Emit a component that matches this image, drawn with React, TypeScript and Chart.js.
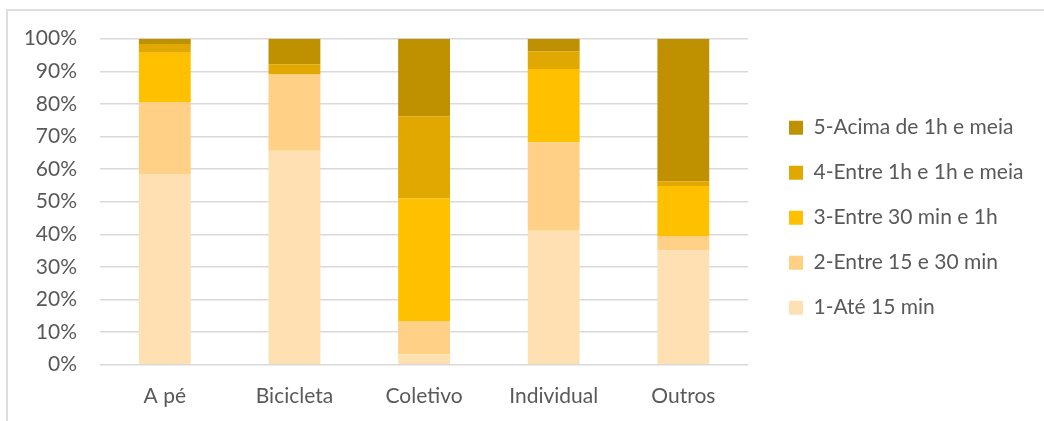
import { useEffect, useRef } from "react";
import { Chart, registerables } from "chart.js";

Chart.register(...registerables);

// Modos de transporte
const categorias = ["A pé", "Bicicleta", "Coletivo", "Individual", "Outros"];

// Participação (%) de cada faixa de tempo de deslocamento
const ate15min = [58.5, 65.6, 3.1, 41.1, 35.1];
const entre15e30 = [22.1, 23.4, 10.3, 27.1, 4.4];
const entre30e1h = [15.1, 0, 37.6, 22.5, 15.3];
const entre1hE1hMeia = [2.7, 3.2, 25.2, 5.4, 1.5];
const acima1hMeia = [1.6, 7.8, 23.8, 3.9, 43.7];

const faixas = [
  "1-Até 15 min",
  "2-Entre 15 e 30 min",
  "3-Entre 30 min e 1h",
  "4-Entre 1h e 1h e meia",
  "5-Acima de 1h e meia",
];
const series = [ate15min, entre15e30, entre30e1h, entre1hE1hMeia, acima1hMeia];
const cores = ["#FFE0B2", "#FFD085", "#FFC000", "#E0A800", "#BF9000"];

// Layout (canvas pixels)
const W = 1036;
const H = 410;
const AREA_LEFT = 92;
const AREA_RIGHT = 740;
const AREA_TOP = 27.7;
const AREA_BOTTOM = 353.7;
const X_AXIS_H = 56;
const FONT_SIZE = 21;
const FONT_FAMILY = "Lato, 'Open Sans', sans-serif";
const TEXT_COLOR = "#595959";
const GRID_COLOR = "#D9D9D9";
const LEG_PAD = 24;
const LEG_BOX = 14;
const LEG_BOX_X = 781;
const LEG_FIRST_TOP = 106.2;

export default function App() {
  const ref = useRef<HTMLCanvasElement | null>(null);

  useEffect(() => {
    const canvas = ref.current;
    if (!canvas) return;

    // Places the legend column beside the plot and lets it use the rest of the width
    const legendPlace = {
      id: "legendPlace",
      afterLayout(chart: any) {
        const lg = chart.legend;
        if (!lg) return;
        lg.left = LEG_BOX_X - LEG_PAD;
        lg.right = W;
        lg.width = lg.right - lg.left;
        const colH = lg.columnSizes && lg.columnSizes[0] ? lg.columnSizes[0].height : 0;
        const start = (lg.top + LEG_PAD + lg.bottom - colH) / 2;
        const dy = LEG_FIRST_TOP - start;
        lg.top += dy;
        lg.bottom += dy;
      },
    };

    const padding = {
      left: 0,
      top: AREA_TOP,
      right: 0,
      bottom: Math.max(0, H - AREA_BOTTOM - X_AXIS_H),
    };

    const chart = new Chart(canvas, {
      type: "bar",
      data: {
        labels: categorias,
        datasets: series.map((valores, i) => ({
          label: faixas[i],
          data: valores,
          backgroundColor: cores[i],
          borderWidth: 0,
          barPercentage: 0.4,
          categoryPercentage: 1,
        })),
      },
      options: {
        responsive: false,
        animation: false,
        devicePixelRatio: 1,
        layout: { padding },
        font: { family: FONT_FAMILY, size: FONT_SIZE },
        color: TEXT_COLOR,
        plugins: {
          tooltip: { enabled: false },
          legend: {
            position: "right",
            reverse: true,
            labels: {
              boxWidth: LEG_BOX,
              boxHeight: LEG_BOX,
              padding: LEG_PAD,
              color: TEXT_COLOR,
              font: { family: FONT_FAMILY, size: FONT_SIZE },
            },
          },
        },
        scales: {
          x: {
            stacked: true,
            grid: { display: false, drawTicks: false },
            border: { display: false },
            ticks: {
              color: TEXT_COLOR,
              font: { family: FONT_FAMILY, size: FONT_SIZE },
              padding: 18.5,
              maxRotation: 0,
            },
            afterFit(scale: any) {
              scale.height = X_AXIS_H;
              scale.paddingLeft = 0;
              scale.paddingRight = 0;
            },
          },
          y: {
            stacked: true,
            min: 0,
            max: 100,
            grid: { color: GRID_COLOR, lineWidth: 1.5, drawTicks: false },
            border: { display: false },
            ticks: {
              stepSize: 10,
              color: TEXT_COLOR,
              font: { family: FONT_FAMILY, size: FONT_SIZE },
              padding: 23,
              callback: (v: any) => `${v}%`,
            },
            afterFit(scale: any) {
              scale.width = AREA_LEFT;
              scale.paddingTop = 0;
              scale.paddingBottom = 0;
            },
          },
        },
      },
      plugins: [legendPlace],
    });

    // Keep the plot's right edge fixed whatever width the legend box takes
    for (let k = 0; k < 8; k++) {
      const excess = chart.chartArea.right - AREA_RIGHT;
      if (Math.abs(excess) < 0.2) break;
      padding.right = Math.max(0, padding.right + excess);
      (chart.options as any).layout.padding = { ...padding };
      chart.update();
    }

    return () => chart.destroy();
  }, []);

  return (
    <div
      style={{
        position: "fixed",
        left: 6,
        top: 9,
        width: 1060,
        height: 440,
        borderTop: "2px solid #DEDEDE",
        borderLeft: "2px solid #DEDEDE",
        background: "#fff",
      }}
    >
      <canvas ref={ref} width={W} height={H} style={{ display: "block", width: W, height: H }} />
    </div>
  );
}
